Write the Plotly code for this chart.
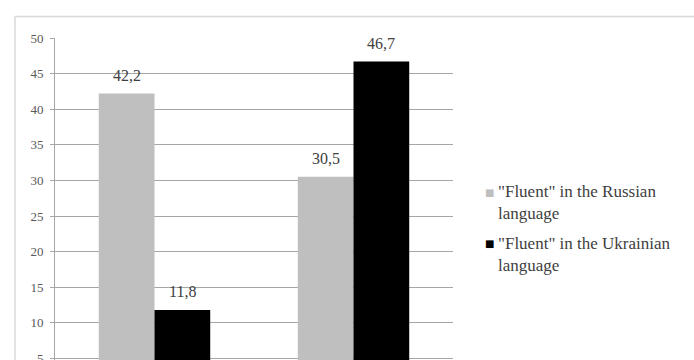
import plotly.graph_objects as go

# Survey shares (%) per group
groups = ["Group A", "Group B"]
russian_fluent = [42.2, 30.5]
ukrainian_fluent = [11.8, 46.7]
series_names = ['"Fluent" in the Russian<br>language', '"Fluent" in the Ukrainian<br>language']
y_ticks = [0, 5, 10, 15, 20, 25, 30, 35, 40, 45, 50]

W, H = 694, 420
ML, MR, MT, MB = 55, 241, 38, 26
FONT = "Liberation Serif, Times New Roman, serif"
BARGAP = 0.44

colors = ["#bfbfbf", "#000000"]
series = [russian_fluent, ukrainian_fluent]

pw = W - ML - MR
ph = H - MT - MB


def px_x(px):
    return (px - ML) / pw


def px_y(py):
    return 1 - (py - MT) / ph


fig = go.Figure()
bar_w = (1 - BARGAP) * pw / len(groups) / len(series)
for i, (name, vals, col) in enumerate(zip(series_names, series, colors)):
    fig.add_trace(go.Bar(
        x=groups, y=vals, name=name, marker=dict(color=col, line=dict(width=0)),
        showlegend=False,
    ))
    # value labels above each bar
    shift = (i - (len(series) - 1) / 2) * bar_w
    for g, v in zip(groups, vals):
        fig.add_annotation(
            x=g, y=v, xref="x", yref="y", text=f"{v:.1f}".replace(".", ","),
            showarrow=False, xshift=shift, yshift=18, yanchor="middle",
            font=dict(family=FONT, size=16, color="#404040"),
        )

# legend: small square keys with two-line labels
legend_rows = [(192, 202), (243, 254)]
for (key_y, text_y), name, col in zip(legend_rows, series_names, colors):
    fig.add_annotation(
        x=px_x(490), y=px_y(key_y), xref="paper", yref="paper", text="■",
        showarrow=False, xanchor="center", yanchor="middle",
        font=dict(family="DejaVu Sans", size=10, color=col),
    )
    fig.add_annotation(
        x=px_x(496), y=px_y(text_y), xref="paper", yref="paper", text=name,
        showarrow=False, xanchor="left", yanchor="middle", align="left",
        font=dict(family=FONT, size=17, color="#404040"),
    )

# chart-area frame (extends past the visible page on the right and bottom)
fig.add_shape(type="rect", xref="paper", yref="paper",
              x0=px_x(15), x1=px_x(W + 20),
              y0=-0.2, y1=px_y(16.5),
              line=dict(color="#d9d9d9", width=1.5), fillcolor="rgba(0,0,0,0)", layer="below")

fig.update_layout(
    width=W, height=H,
    margin=dict(l=ML, r=MR, t=MT, b=MB),
    paper_bgcolor="white", plot_bgcolor="white",
    barmode="group", bargap=BARGAP, bargroupgap=0,
    font=dict(family=FONT, color="#404040"),
    showlegend=False,
    xaxis=dict(showticklabels=False, showgrid=False, showline=False, ticks=""),
    yaxis=dict(range=[0, 50], tickvals=y_ticks, showgrid=True, gridcolor="#a6a6a6",
               gridwidth=1, showline=True, linecolor="#a6a6a6", linewidth=1,
               ticks="outside", ticklen=4, tickcolor="#a6a6a6", ticklabelstandoff=4,
               tickfont=dict(family=FONT, size=13, color="#595959"), zeroline=False),
)

fig.write_html("out.html", post_script="document.body.style.overflow='hidden';document.documentElement.style.overflow='hidden';")
